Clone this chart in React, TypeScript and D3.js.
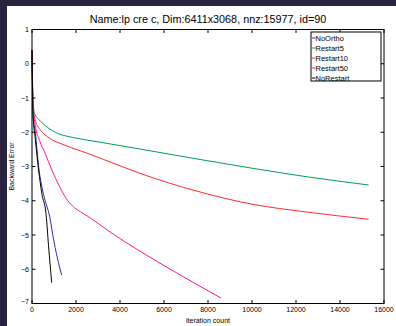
import React from "react";
import * as d3 from "d3";

const title = "Name:lp cre c, Dim:6411x3068, nnz:15977, id=90";
const xLabel = "iteration count";
const yLabel = "Backward Error";
const xTicks = [0, 2000, 4000, 6000, 8000, 10000, 12000, 14000, 16000];
const yTicks = [1, 0, -1, -2, -3, -4, -5, -6, -7];

const seriesNames = ["NoOrtho", "Restart5", "Restart10", "Restart50", "NoRestart"];
const seriesColors = ["#2b2bb0", "#00a050", "#ff2a2a", "#ff1493", "#000000"];

const noOrthoIt = [0, 50, 150, 300, 450, 600, 800, 1000, 1200, 1348];
const noOrthoVal = [0.4, -1.5, -2.0, -3.0, -3.6, -4.0, -4.45, -5.2, -5.8, -6.17];

const restart5It = [0, 50, 150, 300, 500, 1000, 2000, 3000, 5000, 7500, 10000, 12500, 15300];
const restart5Val = [0.4, -1.2, -1.5, -1.62, -1.75, -1.98, -2.17, -2.28, -2.5, -2.78, -3.05, -3.3, -3.54];

const restart10It = [0, 50, 150, 400, 700, 1500, 2500, 4000, 5000, 7500, 10000, 12500, 15300];
const restart10Val = [0.4, -1.3, -1.65, -1.95, -2.13, -2.38, -2.61, -2.98, -3.22, -3.72, -4.1, -4.33, -4.54];

const restart50It = [0, 60, 150, 350, 600, 900, 1250, 1550, 1850, 2200, 2600, 3500, 4900, 6500, 8590];
const restart50Val = [0.4, -1.3, -1.8, -2.25, -2.62, -3.1, -3.58, -3.93, -4.16, -4.32, -4.48, -4.89, -5.47, -6.08, -6.84];

const noRestartIt = [0, 50, 150, 300, 450, 640, 750, 894];
const noRestartVal = [0.4, -1.5, -2.2, -3.1, -3.8, -4.4, -5.3, -6.39];

const seriesIts = [noOrthoIt, restart5It, restart10It, restart50It, noRestartIt];
const seriesVals = [noOrthoVal, restart5Val, restart10Val, restart50Val, noRestartVal];

const W = 396;
const H = 326;
const L = 32, R = 384, T = 29.5, B = 303.5;
const font = "'Liberation Sans', Arial, sans-serif";

export default function App() {
  const x = d3.scaleLinear().domain([0, 16000]).range([L, R]);
  const y = d3.scaleLinear().domain([-7, 1]).range([B, T]);
  const line = d3.line<[number, number]>().x(d => x(d[0])).y(d => y(d[1])).curve(d3.curveMonotoneX);
  const fmt = (v: number) => (v < 0 ? "\u2212" + Math.abs(v) : String(v));
  const tl = 3.5;
  return (
    <svg width={W} height={H} style={{ position: "absolute", left: 0, top: 0 }}>
      <rect x={0} y={0} width={W} height={H} fill="#2a2340" />
      <rect x={7} y={6} width={W - 7} height={H - 6} fill="#ffffff" />
      <text x={(L + R) / 2} y={23} textAnchor="middle" fontFamily={font} fontSize={10.8} fill="#000">{title}</text>
      {seriesIts.map((its, i) => (
        <path key={i} d={line(its.map((v, k) => [v, seriesVals[i][k]] as [number, number])) || ""}
          fill="none" stroke={seriesColors[i]} strokeWidth={1} />
      ))}
      <rect x={L} y={T} width={R - L} height={B - T} fill="none" stroke="#000" strokeWidth={1} />
      {xTicks.map(t => (
        <g key={"x" + t}>
          <line x1={x(t)} x2={x(t)} y1={B} y2={B - tl} stroke="#000" strokeWidth={1} />
          <line x1={x(t)} x2={x(t)} y1={T} y2={T + tl} stroke="#000" strokeWidth={1} />
          <text x={x(t)} y={312} textAnchor="middle" fontFamily={font} fontSize={7} fill="#000">{t}</text>
        </g>
      ))}
      {yTicks.map(t => (
        <g key={"y" + t}>
          <line x1={L} x2={L + tl} y1={y(t)} y2={y(t)} stroke="#000" strokeWidth={1} />
          <line x1={R} x2={R - tl} y1={y(t)} y2={y(t)} stroke="#000" strokeWidth={1} />
          <text x={29} y={t === -7 ? y(t) : y(t) + 2.5} textAnchor="end" fontFamily={font} fontSize={7} fill="#000">{fmt(t)}</text>
        </g>
      ))}
      <text x={(L + R) / 2} y={323} textAnchor="middle" fontFamily={font} fontSize={7} fill="#000">{xLabel}</text>
      <text transform={`translate(14,${(T + B) / 2}) rotate(-90)`} textAnchor="middle" fontFamily={font} fontSize={7} fill="#000">{yLabel}</text>
      <g>
        <rect x={311} y={32} width={70} height={49} fill="#fff" stroke="#000" strokeWidth={1} />
        {seriesNames.map((n, i) => (
          <g key={n}>
            <line x1={312} x2={315.5} y1={38 + i * 10} y2={38 + i * 10} stroke={seriesColors[i]} strokeWidth={1} />
            <text x={315.5} y={40.5 + i * 10} fontFamily={font} fontSize={7.5} fill="#000">{n}</text>
          </g>
        ))}
      </g>
    </svg>
  );
}
